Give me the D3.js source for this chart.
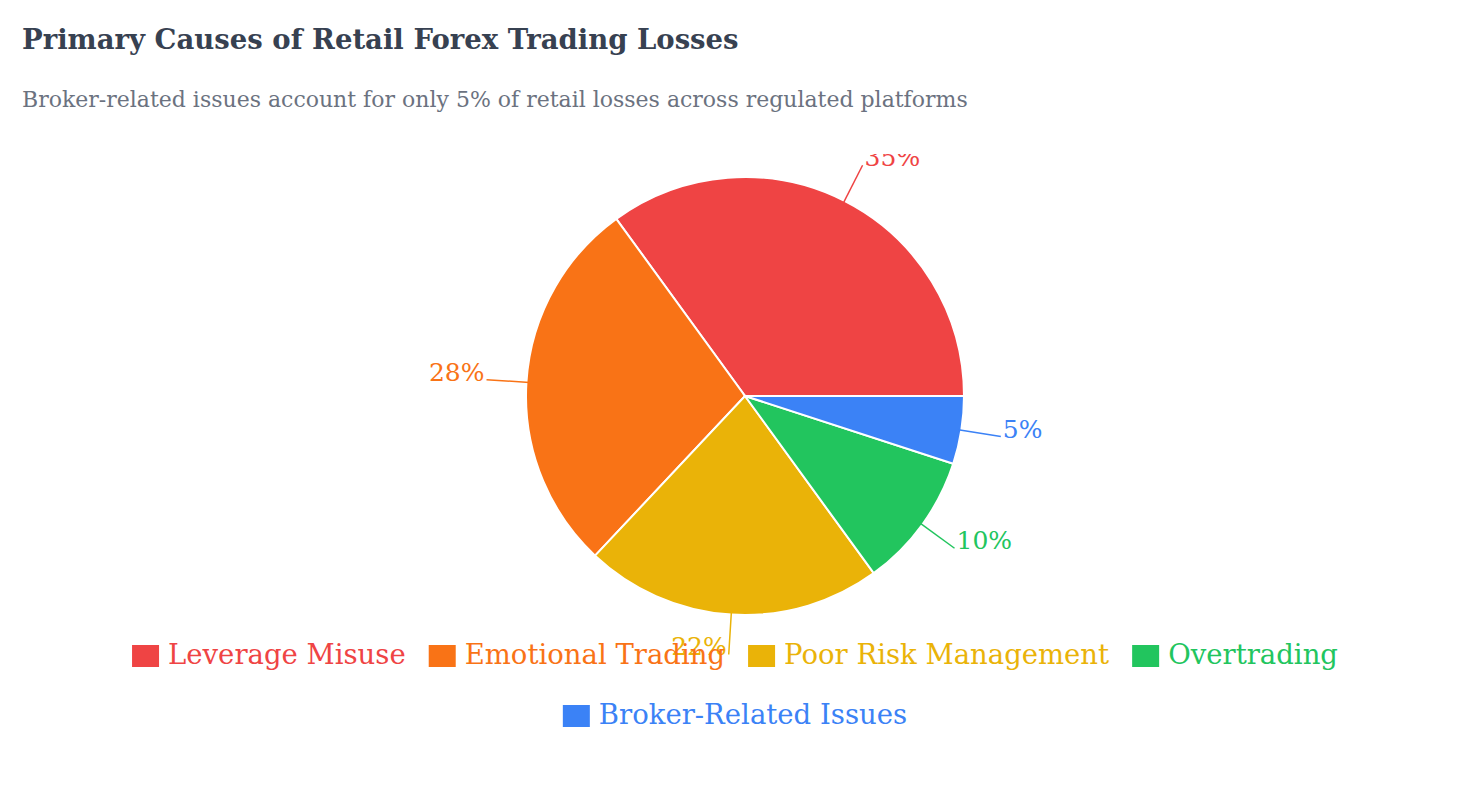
<!DOCTYPE html>
<html><head><meta charset="utf-8">
<script src="https://cdn.jsdelivr.net/npm/d3@7"></script>
<style>body{margin:0;background:#fff}svg{display:block}</style>
</head><body>
<script>
const categories = ["Leverage Misuse","Emotional Trading","Poor Risk Management","Overtrading","Broker-Related Issues"];
const values = [35,28,22,10,5];
const colors = ["#ef4444","#f97316","#eab308","#22c55e","#3b82f6"];
const title = "Primary Causes of Retail Forex Trading Losses";
const subtitle = "Broker-related issues account for only 5% of retail losses across regulated platforms";

const W = 1472, H = 787, font = "DejaVu Serif";
const svg = d3.select("body").append("svg").attr("width",W).attr("height",H);

svg.append("text").attr("x",22).attr("y",49).attr("font-family",font).attr("font-weight","bold")
  .attr("font-size",27.5).attr("fill","#374151").text(title);
svg.append("text").attr("x",22).attr("y",107).attr("font-family",font)
  .attr("font-size",22).attr("fill","#6b7280").text(subtitle);

// chart area clipped at top like the original
svg.append("clipPath").attr("id","clip").append("rect").attr("x",0).attr("y",154).attr("width",W).attr("height",H-154);
const chart = svg.append("g").attr("clip-path","url(#clip)");
const g = chart.append("g").attr("transform","translate(745,396)");
const r = 219;
const pie = d3.pie().sort(null).startAngle(Math.PI/2).endAngle(Math.PI/2 - 2*Math.PI);
const arcs = pie(values);
const arc = d3.arc().innerRadius(0).outerRadius(r);
g.selectAll("path").data(arcs).join("path").attr("d",arc)
  .attr("fill",(d,i)=>colors[i]).attr("stroke","#fff").attr("stroke-width",2);

const pt = (a,rad)=>[Math.sin(a)*rad, -Math.cos(a)*rad];
arcs.forEach((d,i)=>{
  const a = (d.startAngle+d.endAngle)/2;
  const p0 = pt(a,r-3), p1 = pt(a,r+40);
  g.append("line").attr("x1",p0[0]).attr("y1",p0[1]).attr("x2",p1[0]).attr("y2",p1[1])
    .attr("stroke",colors[i]).attr("stroke-width",1.5);
  const right = Math.sin(a) >= 0;
  g.append("text").attr("x",p1[0]+(right?2:-2)).attr("y",p1[1]+1)
    .attr("text-anchor",right?"start":"end").attr("font-family",font).attr("font-size",25)
    .attr("fill",colors[i]).text(values[i]+"%");
});

// legend with wrapping
const lg = svg.append("g");
const items = categories.map((c,i)=>{
  const it = lg.append("g");
  it.append("rect").attr("width",27).attr("height",22).attr("fill",colors[i]);
  const t = it.append("text").attr("x",36).attr("y",19).attr("font-family",font)
    .attr("font-size",27.5).attr("fill",colors[i]).text(c);
  return {it, w: 36 + t.node().getComputedTextLength()};
});
const maxW = 1260, gap = 23;
let rows = [[]], rw = [0];
items.forEach(o=>{
  let k = rows.length-1;
  const add = (rows[k].length?gap:0)+o.w;
  if (rows[k].length && rw[k]+add > maxW){ rows.push([o]); rw.push(o.w); }
  else { rows[k].push(o); rw[k]+=add; }
});
rows.forEach((row,k)=>{
  let x = 735 - rw[k]/2;
  row.forEach(o=>{ o.it.attr("transform",`translate(${x},${645+k*60})`); x += o.w+gap; });
});
</script>
</body></html>
